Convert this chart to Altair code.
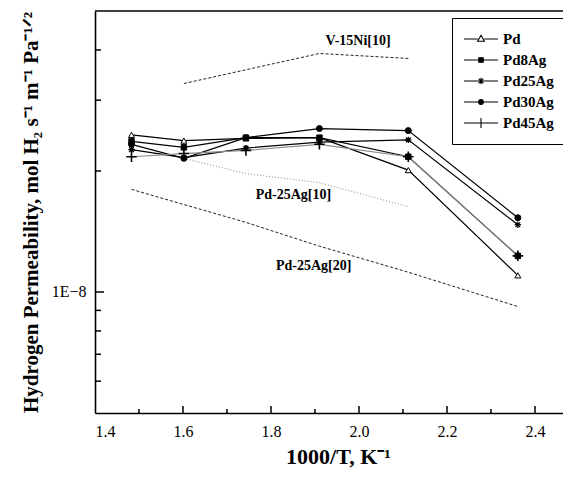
import altair as alt
import pandas as pd

# ---------------- data ----------------
x_vals = [1.483, 1.602, 1.743, 1.910, 2.112, 2.361]
series_names = ["Pd", "Pd8Ag", "Pd25Ag", "Pd30Ag", "Pd45Ag"]
pd_vals = [2.46e-8, 2.38e-8, 2.41e-8, 2.42e-8, 2.01e-8, 1.10e-8]
pd8ag_vals = [2.37e-8, 2.29e-8, 2.42e-8, 2.42e-8, 2.17e-8, 1.23e-8]
pd25ag_vals = [2.26e-8, 2.16e-8, 2.28e-8, 2.36e-8, 2.39e-8, 1.47e-8]
pd30ag_vals = [2.33e-8, 2.15e-8, 2.42e-8, 2.55e-8, 2.52e-8, 1.53e-8]
pd45ag_vals = [2.17e-8, 2.21e-8, 2.25e-8, 2.33e-8, 2.17e-8, 1.23e-8]

v15ni_x = [1.602, 1.910, 2.112]
v15ni_y = [3.30e-8, 3.92e-8, 3.81e-8]
pd25ag_ref10_x = [1.602, 1.743, 1.910, 2.112]
pd25ag_ref10_y = [2.15e-8, 1.97e-8, 1.87e-8, 1.63e-8]
pd25ag_ref20_x = [1.483, 1.602, 1.743, 1.910, 2.112, 2.361]
pd25ag_ref20_y = [1.80e-8, 1.65e-8, 1.49e-8, 1.30e-8, 1.12e-8, 0.92e-8]

annot_text = ["V-15Ni[10]", "Pd-25Ag[10]", "Pd-25Ag[20]"]
annot_x = [1.998, 1.851, 1.897]
annot_y = [4.22e-8, 1.745e-8, 1.16e-8]

x_label_values = [1.4, 1.6, 1.8, 2.0, 2.2, 2.4]
x_major_ticks = [1.6, 1.8, 2.0, 2.2, 2.4]
x_minor_ticks = [1.5, 1.7, 1.9, 2.1, 2.3]
y_major_ticks = [1e-8]
y_minor_ticks = [6e-9, 7e-9, 8e-9, 9e-9, 2e-8, 3e-8, 4e-8]

# ---------------- styling ----------------
FONT = "Liberation Serif"
W, H = 468, 402
xscale = alt.Scale(domain=[1.4, 2.4636], nice=False, zero=False)
yscale = alt.Scale(type="log", domain=[5e-9, 5e-8], nice=False)

series_vals = [pd_vals, pd8ag_vals, pd25ag_vals, pd30ag_vals, pd45ag_vals]

ASTER = "M-1,0L1,0M0,-1L0,1M-0.75,-0.75L0.75,0.75M-0.75,0.75L0.75,-0.75"
PLUS = "M-1,0L1,0M0,-1L0,1"
marker_style = {
    "Pd": dict(shape="triangle-up", size=36, fill="white", stroke="black", strokeWidth=1),
    "Pd8Ag": dict(shape="square", size=30, fill="black", stroke="black", strokeWidth=1),
    "Pd25Ag": dict(shape=ASTER, size=40, fill="none", stroke="black", strokeWidth=1.2),
    "Pd30Ag": dict(shape="circle", size=36, fill="black", stroke="black", strokeWidth=1),
    "Pd45Ag": dict(shape=PLUS, size=110, fill="none", stroke="black", strokeWidth=1.6),
}
line_color = {"Pd": "black", "Pd8Ag": "black", "Pd25Ag": "black", "Pd30Ag": "black", "Pd45Ag": "#8a8a8a"}

legend_paths = [
    "M-1,0H-0.19M0.19,0H1M0,-0.22L0.2,0.13L-0.2,0.13Z",
    "M-1,0H1M-0.13,-0.13H0.13V0.13H-0.13Z",
    "M-1,0H1M-0.14,-0.14L0.14,0.14M-0.14,0.14L0.14,-0.14M0,-0.19V0.19",
    "M-1,0H1M0.14,0A0.14,0.14,0,1,1,-0.14,0A0.14,0.14,0,1,1,0.14,0Z",
    "M-1,0H1M0,-0.3V0.3",
]
legend_fills = ["white", "black", "black", "black", "black"]
legend_strokes = ["black", "black", "black", "black", "black"]

x_axis = alt.Axis(
    values=x_label_values, format=".1f", title="1000/T, K\u207b\u00b9",
    domain=True, domainColor="black", domainWidth=1.6,
    ticks=False, grid=False, labelPadding=10,
    labelFont=FONT, labelFontSize=16, labelColor="black",
    titleFont=FONT, titleFontSize=22, titleFontWeight="bold", titleColor="black",
    titlePadding=7, titleX=243,
)
y_axis = alt.Axis(
    values=y_major_ticks, labelExpr="'1E\u22128'",
    title="Hydrogen Permeability, mol H\u2082 s\u207b\u00b9 m\u207b\u00b9 Pa\u207b\u00b9\u141f\u00b2",
    domain=True, domainColor="black", domainWidth=1.6,
    ticks=False, grid=False, labelPadding=9,
    labelFont=FONT, labelFontSize=16, labelColor="black",
    titleFont=FONT, titleFontSize=21, titleFontWeight="bold", titleColor="black",
    titlePadding=10,
)


def X():
    return alt.X("x:Q", scale=xscale, axis=x_axis)


def Y():
    return alt.Y("y:Q", scale=yscale, axis=y_axis)


layers = []

# reference literature lines
layers.append(
    alt.Chart(pd.DataFrame({"x": v15ni_x, "y": v15ni_y}))
    .mark_line(color="#222", strokeWidth=1, strokeDash=[3, 2])
    .encode(x=X(), y=Y())
)
layers.append(
    alt.Chart(pd.DataFrame({"x": pd25ag_ref10_x, "y": pd25ag_ref10_y}))
    .mark_line(color="#8a8a8a", strokeWidth=1, strokeDash=[1, 2])
    .encode(x=X(), y=Y())
)
layers.append(
    alt.Chart(pd.DataFrame({"x": pd25ag_ref20_x, "y": pd25ag_ref20_y}))
    .mark_line(color="#222", strokeWidth=1, strokeDash=[3, 2])
    .encode(x=X(), y=Y())
)

# measured series
for name, vals in zip(series_names, series_vals):
    d = pd.DataFrame({"x": x_vals, "y": vals})
    layers.append(
        alt.Chart(d).mark_line(color=line_color[name], strokeWidth=1.2).encode(x=X(), y=Y())
    )
for name, vals in zip(series_names, series_vals):
    d = pd.DataFrame({"x": x_vals, "y": vals})
    st = marker_style[name]
    layers.append(
        alt.Chart(d)
        .mark_point(shape=st["shape"], size=st["size"], fill=st["fill"], stroke=st["stroke"],
                    strokeWidth=st["strokeWidth"], opacity=1, filled=False)
        .encode(x=X(), y=Y())
    )

# annotations
layers.append(
    alt.Chart(pd.DataFrame({"x": annot_x, "y": annot_y, "t": annot_text}))
    .mark_text(font=FONT, fontSize=14, fontWeight="bold", color="black")
    .encode(x=X(), y=Y(), text="t:N")
)

# frame top edge and inward ticks
layers.append(
    alt.Chart(pd.DataFrame({"x": [1.4]})).mark_rule(color="black", strokeWidth=1.6)
    .encode(x=alt.value(0), x2=alt.value(W), y=alt.value(0))
)
layers.append(
    alt.Chart(pd.DataFrame({"x": x_major_ticks})).mark_rule(color="black", strokeWidth=1.5)
    .encode(x=X(), y=alt.value(H), y2=alt.value(H - 7))
)
layers.append(
    alt.Chart(pd.DataFrame({"x": x_minor_ticks})).mark_rule(color="black", strokeWidth=1.5)
    .encode(x=X(), y=alt.value(H), y2=alt.value(H - 4))
)
layers.append(
    alt.Chart(pd.DataFrame({"y": y_major_ticks})).mark_rule(color="black", strokeWidth=1.5)
    .encode(y=Y(), x=alt.value(0), x2=alt.value(9))
)
layers.append(
    alt.Chart(pd.DataFrame({"y": y_minor_ticks})).mark_rule(color="black", strokeWidth=1.5)
    .encode(y=Y(), x=alt.value(0), x2=alt.value(6))
)

# legend (symbols built from the series names)
leg = alt.Legend(
    title=None, orient="none", legendX=357, legendY=7,
    strokeColor="black", fillColor="white", padding=11,
    labelFont=FONT, labelFontSize=15, labelFontWeight="bold", labelColor="black",
    symbolSize=1156, symbolStrokeWidth=1.1, clipHeight=20,
    labelOffset=4, rowPadding=1,
)
layers.append(
    alt.Chart(pd.DataFrame({"series": series_names}))
    .mark_point(clip=True, filled=True, opacity=1, size=1156, strokeWidth=1.1)
    .encode(
        x=alt.value(-300), y=alt.value(-300),
        shape=alt.Shape("series:N", scale=alt.Scale(domain=series_names, range=legend_paths),
                        legend=leg),
        fill=alt.Fill("series:N", scale=alt.Scale(domain=series_names, range=legend_fills),
                      legend=leg),
        stroke=alt.Stroke("series:N", scale=alt.Scale(domain=series_names, range=legend_strokes),
                          legend=leg),
    )
)

chart = (
    alt.layer(*layers)
    .properties(width=W, height=H,
                autosize=alt.AutoSizeParams(type="none"),
                padding={"left": 87, "top": 3, "right": 0, "bottom": 56},
                background="white",
                view=alt.ViewBackground(stroke="transparent"))
)

chart.save("out.html", embed_options={"renderer": "svg", "actions": False})
